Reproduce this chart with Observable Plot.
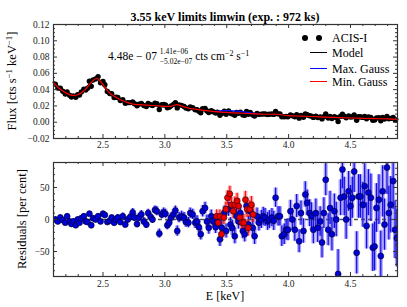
<!DOCTYPE html>
<html><head><meta charset="utf-8">
<script src="https://cdn.jsdelivr.net/npm/d3@7"></script>
<script src="https://cdn.jsdelivr.net/npm/@observablehq/plot@0.6"></script>
<style>
body{margin:0;background:#fff;}
#wrap{position:relative;width:407px;height:307px;font-family:"Liberation Serif",serif;overflow:hidden;background:#fff;}
#topPanel,#botPanel{position:absolute;left:0;}
#topPanel{top:0}
#botPanel{top:150px}
.t{position:absolute;white-space:nowrap;color:#000;line-height:1;}
.rot{transform:translate(-50%,-50%) rotate(-90deg);font-size:12.5px;}
.sw{position:absolute;height:1px;}
.dt{position:absolute;width:6px;height:6px;border-radius:50%;background:#000;}
sup{font-size:70%;vertical-align:0;position:relative;top:-0.45em;}
</style></head><body>
<div id="wrap">
 <div id="topPanel"></div><div id="botPanel"></div>
 <div class="t" id="title" style="left:225px;top:17px;transform:translate(-50%,-50%);font-weight:bold;font-size:12px;">3.55 keV limits limwin (exp. : 972 ks)</div>
 <div class="t rot" style="left:12px;top:81px;">Flux [cts s<sup>−1</sup> keV<sup>−1</sup>]</div>
 <div class="t rot" style="left:22px;top:219px;">Residuals [per cent]</div>
 <div class="t" style="left:225px;top:296px;transform:translate(-50%,-50%);font-size:12px;">E [keV]</div>
 <div class="t" style="left:108px;top:57px;transform:translateY(-50%);font-size:11.5px;display:flex;align-items:center;">
   <span>4.48e − 07&nbsp;</span>
   <span style="display:inline-flex;flex-direction:column;font-size:7.5px;line-height:1.3;"><span>1.41e−06</span><span>−5.02e−07</span></span>
   <span>&nbsp;cts cm<sup>−2</sup> s<sup>−1</sup></span>
 </div>
 <div class="dt" style="left:302px;top:35px;"></div>
 <div class="dt" style="left:316px;top:35px;"></div>
 <div class="sw" style="left:310px;width:17px;top:52px;background:#000;"></div>
 <div class="sw" style="left:310px;width:17px;top:68px;background:#0000ff;"></div>
 <div class="sw" style="left:310px;width:17px;top:81px;background:#ff0000;"></div>
 <div class="t" style="left:332px;top:38px;transform:translateY(-50%);font-size:12px;">ACIS-I</div>
 <div class="t" style="left:332px;top:53px;transform:translateY(-50%);font-size:12px;">Model</div>
 <div class="t" style="left:332px;top:68.5px;transform:translateY(-50%);font-size:12px;">Max. Gauss</div>
 <div class="t" style="left:332px;top:82px;transform:translateY(-50%);font-size:12px;">Min. Gauss</div>
</div>
<script>
const energy = [2.115,2.135,2.155,2.175,2.195,2.21,2.23,2.245,2.26,2.28,
2.295,2.31,2.325,2.345,2.36,2.375,2.39,2.405,2.42,2.44,
2.46,2.48,2.50,2.515,2.535,2.555,2.57,2.59,2.605,2.62,
2.64,2.66,2.68,2.70,2.72,2.74,2.755,2.775,2.79,2.81,
2.83,2.85,2.865,2.885,2.90,2.92,2.935,2.955,2.975,2.99,
3.005,3.02,3.035,3.05,3.07,3.085,3.10,3.115,3.135,3.155,
3.17,3.19,3.205,3.225,3.245,3.26,3.275,3.29,3.305,3.325,
3.34,3.355,3.375,3.39,3.41,3.425,3.445,3.46,3.48,3.495,
3.515,3.53,3.545,3.565,3.58,3.595,3.61,3.63,3.645,3.66,
3.675,3.69,3.71,3.725,3.745,3.76,3.78,3.795,3.81,3.83,
3.845,3.865,3.88,3.895,3.915,3.93,3.945,3.965,3.98,3.995,
4.015,4.03,4.05,4.065,4.085,4.10,4.12,4.135,4.15,4.17,
4.185,4.20,4.22,4.235,4.255,4.27,4.285,4.30,4.32,4.335,
4.35,4.37,4.385,4.40,4.42,4.435,4.45,4.465,4.485,4.50,
4.515,4.53,4.55,4.565,4.58,4.60,4.615,4.63,4.645,4.665,
4.68,4.695,4.71,4.73,4.745,4.76,4.775,4.795,4.81,4.825,
4.845,4.86,4.875];
const flux = [0.0466,0.0421,0.0417,0.0381,0.0347,0.0372,0.0332,0.0310,0.0322,0.0306,
0.0339,0.0333,0.0372,0.0404,0.0396,0.0418,0.0504,0.0442,0.0518,0.0532,
0.0560,0.0485,0.0501,0.0460,0.0378,0.0352,0.0350,0.0304,0.0306,0.0303,
0.0267,0.0277,0.0232,0.0240,0.0241,0.0249,0.0226,0.0203,0.0222,0.0231,
0.0206,0.0193,0.0230,0.0215,0.0205,0.0233,0.0228,0.0156,0.0214,0.0218,
0.0213,0.0177,0.0185,0.0201,0.0219,0.0239,0.0176,0.0213,0.0207,0.0194,
0.0175,0.0165,0.0186,0.0178,0.0153,0.0153,0.0136,0.0116,0.0166,0.0170,
0.0137,0.0120,0.0141,0.0128,0.0114,0.0123,0.0086,0.0108,0.0134,0.0098,
0.0138,0.0109,0.0101,0.0085,0.0120,0.0109,0.0122,0.0090,0.0084,0.0131,
0.0098,0.0120,0.0090,0.0076,0.0107,0.0096,0.0099,0.0103,0.0101,0.0095,
0.0098,0.0101,0.0096,0.0131,0.0102,0.0100,0.0068,0.0068,0.0071,0.0068,
0.0089,0.0079,0.0066,0.0093,0.0050,0.0083,0.0061,0.0101,0.0092,0.0079,
0.0075,0.0059,0.0075,0.0058,0.0064,0.0041,0.0069,0.0100,0.0051,0.0071,
0.0046,0.0067,0.0058,0.0009,0.0075,0.0098,0.0075,0.0054,0.0076,0.0063,
0.0068,0.0089,0.0024,0.0067,0.0067,0.0059,0.0071,0.0042,0.0065,0.0060,
0.0025,0.0026,0.0052,0.0056,0.0018,0.0060,0.0038,0.0072,0.0043,0.0047,
0.0059,0.0030,0.0025];
const resid = [0,-3,3,-1,-5,5,-3,-7,-3,-9,
0,-5,2,5,-3,-4,9,-9,2,0,
5,-3,9,7,-4,-2,3,-5,0,3,
-4,5,-8,0,4,11,3,-7,3,8,
-3,-8,10,4,0,15,13,-22,8,11,
9,-9,-5,3,8,14,-18,3,5,3,
-4,-5,10,8,-5,-3,-12,-23,13,18,
-3,-13,5,-3,-12,-3,-31,-13,10,-18,
16,-8,-13,-26,5,-3,10,-18,-23,21,
-8,13,-13,-26,5,-5,0,5,3,-3,
0,3,-2,34,5,5,-26,-23,-16,-16,
13,0,-16,21,-34,10,-18,39,26,10,
5,-16,10,-13,-3,-36,10,62,-16,18,
-23,13,0,-85,34,78,36,0,44,21,
34,75,-52,36,36,23,52,-10,42,34,
-44,-42,18,31,-57,44,-8,81,10,23,
60,-16,-29];
const residErr = [4,4,4,4,4,4,4,4,4,4,4,4,4,4,4,4,4,4,4,4,4,4,4,4,4,4,4,5,
5,5,5,5,5,5,5,6,6,6,6,6,6,6,6,6,6,6,7,7,7,7,
7,7,7,7,7,7,8,8,8,8,8,8,8,8,9,9,9,
9,9,9,10,10,10,10,10,11,11,11,11,11,
11,11,12,12,12,12,12,12,12,13,13,13,13,13,13,13,14,14,14,14,14,14,15,
15,15,15,16,16,16,17,17,17,18,18,18,19,19,
20,20,21,21,22,22,23,23,24,24,25,25,26,26,27,27,
38,28,30,30,31,31,32,32,33,33,34,34,35,35,
36,36,37,37,38,38,39,39,40,40,42,42,44,44,45,45];
const modelE = [2.10,2.15,2.20,2.25,2.30,2.35,2.40,2.45,2.48,2.52,2.56,2.60,2.65,2.70,2.75,2.80,2.85,2.90,2.95,3.00,3.05,3.10,3.15,3.20,3.25,3.30,3.40,3.50,3.60,3.70,3.80,3.90,3.93,4.00,4.10,4.20,4.30,4.40,4.50,4.60,4.70,4.80,4.88];
const modelF = [0.049,0.041,0.036,0.033,0.034,0.039,0.048,0.054,0.050,0.042,0.035,0.031,0.027,0.024,0.022,0.0215,0.021,0.0205,0.020,0.0195,0.0195,0.0215,0.019,0.017,0.016,0.0148,0.013,0.012,0.0112,0.0105,0.0098,0.0098,0.0095,0.008,0.0075,0.007,0.0062,0.0057,0.0052,0.0048,0.0044,0.004,0.0035];
const maxGaussE = [3.40,3.45,3.50,3.55,3.60,3.65,3.70,3.75];
const maxGaussF = [0.0131,0.0140,0.0142,0.0140,0.0134,0.0125,0.0112,0.0102];
const minE = [3.418,3.431,3.445,3.458,3.477,3.493,3.506,3.525,3.538,3.552,3.565,3.584,3.595,3.606,3.622,3.638,3.651,3.665,3.673,3.686,3.70,3.713];
const minResid = [5,-5,5,-23,3,16,34,40,23,13,23,29,21,3,-5,-5,31,16,-13,16,23,8];
const minErr = [10,10,10,11,11,11,11,12,12,12,12,12,12,12,13,13,13,13,13,13,13,13];
const xMajor = [2.5,3.0,3.5,4.0,4.5];
const xMinor = [2.2,2.3,2.4,2.6,2.7,2.8,2.9,3.1,3.2,3.3,3.4,3.6,3.7,3.8,3.9,4.1,4.2,4.3,4.4,4.6,4.7,4.8];
const fluxMajor = [-0.02,0,0.02,0.04,0.06,0.08,0.10,0.12];
const fluxMinor = [-0.015,-0.01,-0.005,0.005,0.01,0.015,0.025,0.03,0.035,0.045,0.05,0.055,0.065,0.07,0.075,0.085,0.09,0.095,0.105,0.11,0.115];
const residMajor = [-50,0,50];
const residMinor = [-80,-70,-60,-40,-30,-20,-10,10,20,30,40,60,70,80];
const xDomain = [2.1,4.88];

const W = 407, ML = 53, MR = 10;
const FW = W - ML - MR;
const pts = energy.map((e,i)=>({e, f: flux[i], r: resid[i], err: residErr[i]}));
const model = modelE.map((e,i)=>({e, f: modelF[i]}));
const maxG = maxGaussE.map((e,i)=>({e, f: maxGaussF[i]}));
const mins = minE.map((e,i)=>({e, r: minResid[i], err: minErr[i]}));
const style = {fontFamily:"Liberation Serif", fontSize:"9.5px", color:"#222", background:"white", overflow:"visible"};

function frameTicks(yMajor, yMinor, FH){
  const c = "#333";
  return [
    Plot.tickX(xMajor,{x:d=>d, insetTop:FH-4, stroke:c}),
    Plot.tickX(xMajor,{x:d=>d, insetBottom:FH-4, stroke:c}),
    Plot.tickX(xMinor,{x:d=>d, insetTop:FH-2, stroke:c}),
    Plot.tickX(xMinor,{x:d=>d, insetBottom:FH-2, stroke:c}),
    Plot.tickY(yMajor,{y:d=>d, insetRight:FW-4, stroke:c}),
    Plot.tickY(yMajor,{y:d=>d, insetLeft:FW-4, stroke:c}),
    Plot.tickY(yMinor,{y:d=>d, insetRight:FW-2, stroke:c}),
    Plot.tickY(yMinor,{y:d=>d, insetLeft:FW-2, stroke:c}),
    Plot.frame({stroke:"#333", strokeWidth:1.2})
  ];
}

const H1 = 150, MT1 = 24, MB1 = 12;
const topPlot = Plot.plot({
  width: W, height: H1, marginLeft: ML, marginRight: MR, marginTop: MT1, marginBottom: MB1,
  style,
  x: {domain: xDomain, label: null},
  y: {domain: [-0.02, 0.12], label: null},
  marks: [
    Plot.axisX({ticks: xMajor, tickSize: 0, tickPadding: 3, tickFormat: d3.format(".1f"), label: null}),
    Plot.axisY({ticks: fluxMajor, tickSize: 0, tickPadding: 4, tickFormat: d3.format(".2f"), label: null}),
    Plot.dot(pts, {x:"e", y:"f", r:2.7, fill:"#000", clip:true}),
    Plot.line(model, {x:"e", y:"f", stroke:"#000", strokeWidth:2.2, curve:"catmull-rom"}),
    Plot.line(maxG, {x:"e", y:"f", stroke:"#0000ff", strokeWidth:1.3, curve:"catmull-rom"}),
    Plot.line(model, {x:"e", y:"f", stroke:"#ff0000", strokeWidth:1.2, curve:"catmull-rom"}),
    ...frameTicks(fluxMajor, fluxMinor, H1-MT1-MB1)
  ]
});
document.getElementById("topPanel").append(topPlot);

const H2 = 157, MT2 = 12, MB2 = 31;
const botPlot = Plot.plot({
  width: W, height: H2, marginLeft: ML, marginRight: MR, marginTop: MT2, marginBottom: MB2,
  style,
  x: {domain: xDomain, label: null},
  y: {domain: [-89, 89], label: null},
  marks: [
    Plot.axisX({ticks: xMajor, tickSize: 0, tickPadding: 4, tickFormat: d3.format(".1f"), label: null}),
    Plot.axisY({ticks: residMajor, tickSize: 0, tickPadding: 4, tickFormat: d3.format("d"), label: null}),
    Plot.ruleX(pts, {x:"e", y1:d=>d.r-d.err, y2:d=>d.r+d.err, stroke:"#6f5cff", strokeOpacity:0.55, strokeWidth:4, clip:true}),
    Plot.ruleX(mins, {x:"e", y1:d=>d.r-d.err, y2:d=>d.r+d.err, stroke:"#ff5050", strokeOpacity:0.5, strokeWidth:4, clip:true}),
    Plot.ruleY([0], {stroke:"#555", strokeWidth:1.5, strokeDasharray:"4,3"}),
    Plot.ruleX(pts, {x:"e", y1:d=>d.r-d.err, y2:d=>d.r+d.err, stroke:"#1010e0", strokeWidth:1.2, clip:true}),
    Plot.ruleX(mins, {x:"e", y1:d=>d.r-d.err, y2:d=>d.r+d.err, stroke:"#ff1010", strokeWidth:1.2, clip:true}),
    Plot.dot(pts, {x:"e", y:"r", r:3, fill:"#0000d8", stroke:"#000022", strokeWidth:0.6, clip:true}),
    Plot.dot(mins, {x:"e", y:"r", r:3, fill:"#ee0000", stroke:"#220000", strokeWidth:0.6, clip:true}),
    ...frameTicks(residMajor, residMinor, H2-MT2-MB2)
  ]
});
document.getElementById("botPanel").append(botPlot);
</script>
</body></html>
